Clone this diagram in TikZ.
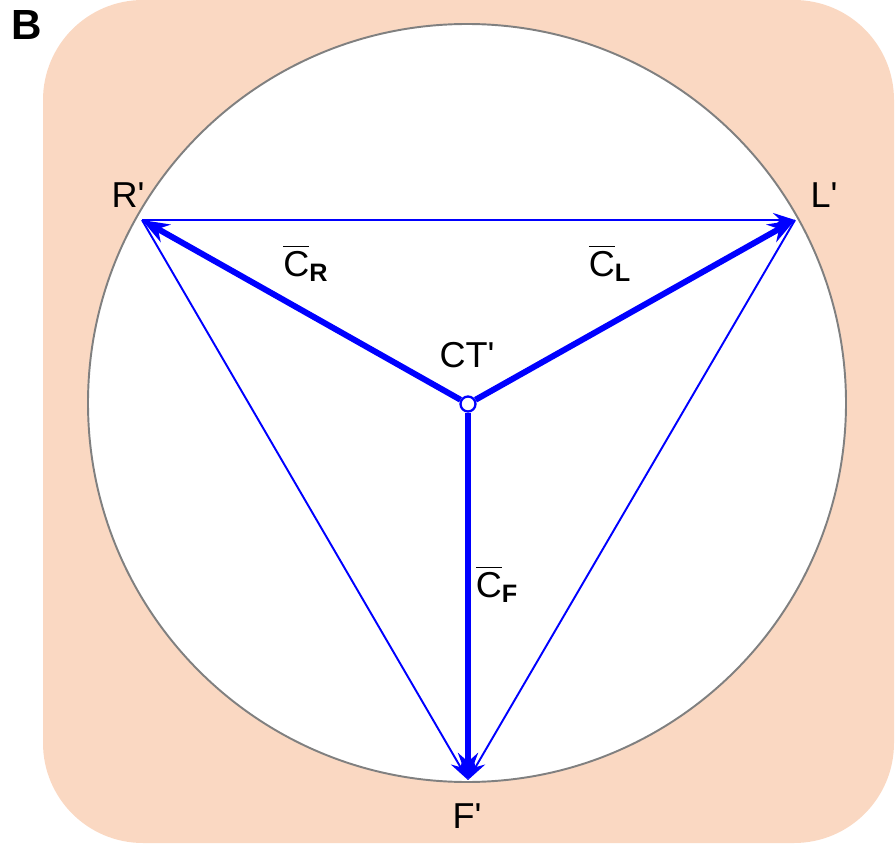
\documentclass[tikz,border=0pt]{standalone}
\usepackage{amsmath}
\usepackage{fontspec}
\setmainfont{Liberation Sans}
\usetikzlibrary{arrows.meta,positioning}
\definecolor{fpeach}{RGB}{250,216,194}
\definecolor{fblue}{RGB}{0,0,255}
\definecolor{fring}{RGB}{128,128,128}
\tikzset{
  vecthick/.style = {-{Stealth[length=5.4mm,width=4mm]}, line width=3.4pt, fblue},
  vecthin/.style  = {-{Stealth[length=4.4mm,width=2.8mm]}, line width=1.1pt, fblue},
  ptlabel/.style  = {font=\fontsize{20.5}{24}\selectfont, inner sep=0pt},
  origin/.style   = {draw=fblue, fill=white, circle, line width=1.3pt,
                     inner sep=0pt, minimum size=0.3cm},
}
\newcommand{\cvec}[1]{$\overline{\text{C}}_{\text{\bfseries #1}}$}
\newcommand{\pr}{\textquotesingle}

\begin{document}
\begin{tikzpicture}[x=0.02cm, y=0.02cm]
\useasboundingbox (0,0) rectangle (896,843);
% ---- background and circle ----
\fill[fpeach, rounded corners=2cm] (43,0) rectangle (894,843);
\draw[fring, fill=white, line width=1.1pt] (467,440) circle[radius=379];
\node[font=\fontsize{24}{28}\selectfont\bfseries, inner sep=0pt] (panel) at (27,818) {B};
% ---- the three points on the circle ----
\coordinate (R) at (142,623);
\coordinate (L) at (795,623);
\coordinate (F) at (468,63);
\node[origin] (CT) at (468,439) {};
% ---- chords ----
\draw[vecthin, line width=1.6pt] (R) -- (L);
\draw[vecthin] (R) -- (F);
\draw[vecthin] (L) -- (F);
% ---- vectors from the centre ----
\draw[vecthick] (CT) -- (R);
\draw[vecthick] (CT) -- (L);
\draw[vecthick] (CT) -- (F);
% ---- labels ----
\node[ptlabel] (labR) at (128,648) {R\pr};
\node[ptlabel] (labL) at (824,648) {L\pr};
\node[ptlabel] (labF) at (467,27) {F\pr};
\node[ptlabel] (labCT) at (467,488) {CT\pr};
\node[ptlabel] (cR) at (306,580) {\cvec{R}};
\node[ptlabel] (cL) at (610,580) {\cvec{L}};
\node[ptlabel] (cF) at (497,259) {\cvec{F}};
\end{tikzpicture}
\end{document}
